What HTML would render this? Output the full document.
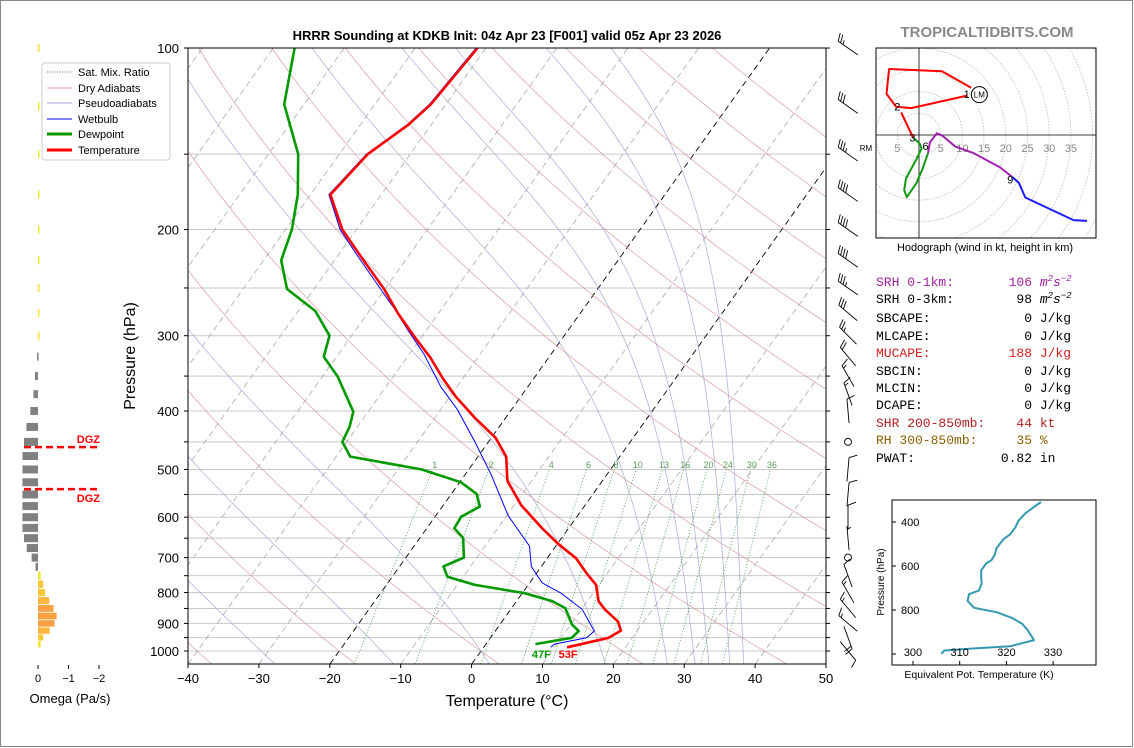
<!DOCTYPE html>
<html><head><meta charset="utf-8"><style>
html,body{margin:0;padding:0;background:#fff;}
svg{display:block;font-family:"Liberation Sans",sans-serif;}
.mono{font-family:"Liberation Mono",monospace;font-size:13px;white-space:pre;}
</style></head><body>
<svg id="chart" width="1134" height="748" viewBox="0 0 1134 748" xmlns="http://www.w3.org/2000/svg">
<rect x="0.5" y="0.5" width="1132" height="746" fill="#fff" stroke="#888"/>
<defs>
<clipPath id="mainClip"><rect x="188" y="48" width="638" height="616"/></clipPath>
<clipPath id="hodoClip"><rect x="876" y="48" width="220" height="190"/></clipPath>
</defs>
<text x="507" y="40" text-anchor="middle" font-size="13" font-weight="bold">HRRR Sounding at KDKB Init: 04z Apr 23 [F001] valid 05z Apr 23 2026</text>
<text x="987" y="37" text-anchor="middle" font-size="15" font-weight="bold" fill="#888">TROPICALTIDBITS.COM</text>
<g id="bg" clip-path="url(#mainClip)"></g>
<g id="prof" clip-path="url(#mainClip)"></g>
<g id="axes"></g>
<g id="barbs"></g>
<g id="omega"></g>
<g id="hodo"></g>
<g id="thetae"></g>
<g>
<rect x="42" y="63" width="128" height="97" rx="3" fill="#fff" stroke="#ccc"/>
<line x1="47" y1="72" x2="72" y2="72" stroke="#3a9a3a" stroke-dasharray="1,1.5"/><text x="78" y="76" font-size="11">Sat. Mix. Ratio</text>
<line x1="47" y1="88" x2="72" y2="88" stroke="#e0a0a0"/><text x="78" y="92" font-size="11">Dry Adiabats</text>
<line x1="47" y1="103" x2="72" y2="103" stroke="#a8a8e0"/><text x="78" y="107" font-size="11">Pseudoadiabats</text>
<line x1="47" y1="119" x2="72" y2="119" stroke="#00f"/><text x="78" y="123" font-size="11">Wetbulb</text>
<line x1="47" y1="134" x2="72" y2="134" stroke="#009900" stroke-width="3"/><text x="78" y="138" font-size="11">Dewpoint</text>
<line x1="47" y1="150" x2="72" y2="150" stroke="#f00" stroke-width="3"/><text x="78" y="154" font-size="11">Temperature</text>
</g>
<g>
<text class="mono" x="876" y="286" fill="#a020a0">SRH 0-1km:       106 <tspan font-style="italic">m<tspan dy="-5" font-size="9">2</tspan><tspan dy="5">s</tspan><tspan dy="-5" font-size="9">−2</tspan></tspan></text>
<text class="mono" x="876" y="303" fill="#000">SRH 0-3km:        98 <tspan font-style="italic">m<tspan dy="-5" font-size="9">2</tspan><tspan dy="5">s</tspan><tspan dy="-5" font-size="9">−2</tspan></tspan></text>
<text class="mono" x="876" y="322">SBCAPE:            0 J/kg</text>
<text class="mono" x="876" y="340">MLCAPE:            0 J/kg</text>
<text class="mono" x="876" y="357" fill="#d02020">MUCAPE:          188 J/kg</text>
<text class="mono" x="876" y="375">SBCIN:             0 J/kg</text>
<text class="mono" x="876" y="392">MLCIN:             0 J/kg</text>
<text class="mono" x="876" y="409">DCAPE:             0 J/kg</text>
<text class="mono" x="876" y="427" fill="#b02020">SHR 200-850mb:    44 kt</text>
<text class="mono" x="876" y="444" fill="#8b6000">RH 300-850mb:     35 %</text>
<text class="mono" x="876" y="462">PWAT:           0.82 in</text>
</g>
</svg>
<script>
// ---------- data ----------
const tempP = [100,124,134,150,175,200,225,251,276,303,326,354,379,410,443,476,522,573,625,665,702,742,777,827,853,894,925,951,986];
const tempT = [-61.2,-62.1,-63.2,-66.0,-67.2,-62.0,-55.9,-50.1,-45.6,-40.7,-36.7,-32.7,-29.1,-24.4,-19.4,-16.0,-13.4,-9.0,-3.8,0.2,4.1,7.0,9.6,11.6,13.3,16.4,17.7,16.7,11.8];
const dewP = [100,124,150,175,200,225,251,273,300,325,351,401,425,450,476,500,525,549,576,599,626,649,700,724,753,777,802,827,849,904,927,951,974];
const dewT = [-87.0,-82.8,-75.8,-71.8,-69.1,-67.5,-63.8,-57.6,-53.1,-51.8,-47.8,-42.1,-41.1,-40.6,-38.0,-26.6,-19.8,-16.4,-14.7,-16.3,-16.1,-13.9,-11.8,-13.8,-12.2,-7.5,0.4,5.1,7.6,10.2,11.8,11.5,7.0];
const wbP = [100,124,134,150,175,200,225,251,271,296,322,365,398,450,510,596,670,724,771,802,853,927,951,974,986];
const wbT = [-61.4,-62.3,-63.4,-66.2,-67.4,-62.3,-56.3,-50.6,-46.6,-42.2,-37.9,-32.2,-27.6,-21.9,-16.3,-9.8,-3.7,-1.4,1.8,5.5,10.1,14.0,13.6,9.7,9.5];
const xTicks = [-40,-30,-20,-10,0,10,20,30,40,50];
const pLabels = [100,200,300,400,500,600,700,800,900,1000];
const pGrid = [100,150,200,250,300,350,400,450,500,550,600,650,700,750,800,850,900,950,1000];
const mixRatios = [1,2,4,6,8,10,13,16,20,24,30,36];
const mixLabels = ['1','2','4','6','8','10','13','16','20','24','30','36'];
const dryThetas = [-40,-20,0,20,40,60,80,100,120,140,160,180,200];
const moistT0 = [-31,-14,0,17,26,30,32,35,37];
// omega
const omegaP = [100,125,150,175,200,225,250,275,300,325,350,375,400,425,450,475,500,525,550,575,600,625,650,675,700,725,750,775,800,825,850,875,900,925,950,975];
const omegaV = [-0.05,-0.05,-0.05,-0.05,-0.05,-0.05,-0.05,-0.05,-0.03,0.03,0.1,0.15,0.25,0.38,0.46,0.51,0.51,0.51,0.51,0.51,0.51,0.51,0.46,0.37,0.21,0.08,-0.09,-0.17,-0.23,-0.37,-0.51,-0.61,-0.54,-0.38,-0.17,-0.09];
const omegaTicks = [0,-1,-2];
const dgzP = [459,539];
// hodograph (kt)
const hodoRedU = [12.0,5.3,-6.9,-7.5,-5.3,-1.8,11.2];
const hodoRedV = [10.9,14.7,15.2,9.5,6.5,6.2,9.1];
const hodoRed2U = [-4.1,-1.4];
const hodoRed2V = [5.2,-0.5];
const hodoGreenU = [-1.4,0.2,0.6,-0.6,-3.0,-3.4,-2.8,-0.6,0.9,2.1];
const hodoGreenV = [-0.5,-2.1,-3.1,-5.6,-10.0,-12.7,-14.3,-11.1,-7.6,-4.1];
const hodoPurpleU = [2.1,2.5,4.1,5.3,8.4,12.4,18.6,21.4];
const hodoPurpleV = [-4.1,-1.7,0.4,-0.1,-2.7,-4.1,-7.4,-9.6];
const hodoBlueU = [21.4,23.0,24.5,35.6,38.7];
const hodoBlueV = [-9.6,-11.0,-14.4,-19.6,-19.8];
const hodoRings = [5,10,15,20,25,30,35,40,45];
const hodoLabelsNames = ['1','2','3','6','9'];
const hodoLabelsU = [11.0,-5.0,-1.5,1.5,21.0];
const hodoLabelsV = [9.5,6.6,-0.6,-2.5,-10.2];
const lmUV = [13.9,9.3];
// theta-e
const thetaP = [309,332,360,394,425,456,480,518,549,573,588,619,650,681,712,728,759,790,810,836,863,890,937,965,976,984,999];
const thetaV = [327.4,325.9,324.1,322.6,321.9,320.8,319.3,317.9,317.5,316.8,315.7,314.6,314.6,314.7,314.1,312.0,311.7,313.1,317.9,321.2,323.4,324.5,325.9,320.8,312.0,306.7,306.1];
const thetaXTicks = [300,310,320,330];
const thetaYTicks = [400,600,800,1000];
// winds
const windP = [100,125,150,175,200,225,250,275,300,325,350,375,400,450,500,550,600,650,700,750,800,850,900,950,1000];
const windSpd = [25,30,35,40,40,40,35,30,25,20,15,15,10,0,10,10,10,5,0,10,15,15,15,20,10];
const windDir = [305,305,305,305,305,305,305,310,315,320,330,340,355,0,5,5,0,355,0,340,330,320,310,160,140];

// ---------- helpers ----------
const NS='http://www.w3.org/2000/svg';
function mk(tag, parent, attrs){const e=document.createElementNS(NS,tag);for(const k in attrs)e.setAttribute(k,attrs[k]);parent.appendChild(e);return e;}
function yP(p){return 48+603*Math.log10(p/100);}
function xT(T,p){return 188+(T+40)*7.089+0.714*(664-yP(p));}
function pts(ps,ts){return ps.map((p,i)=>xT(ts[i],p).toFixed(1)+','+yP(p).toFixed(1)).join(' ');}
const bg=document.getElementById('bg'), prof=document.getElementById('prof'), ax=document.getElementById('axes');

pGrid.forEach(p=>{const l=mk('line',bg,{x1:188,x2:826,y1:yP(p),y2:yP(p),stroke:'#c8c8c8','stroke-width':1});

});
for(let T=-150;T<=50;T+=10){const black=(T===-20||T===0);
const l=mk('line',bg,{x1:xT(T,1050),y1:664,x2:xT(T,100),y2:48,stroke:black?'#000':'#aaa','stroke-dasharray':'6,4','stroke-width':black?0.9:0.8});

}
dryThetas.forEach(th=>{const K=th+273.15;let s=[];for(let p=1050;p>=100;p-=10){s.push(xT(K*Math.pow(p/1000,0.2857)-273.15,p).toFixed(1)+','+yP(p).toFixed(1));}
const l=mk('polyline',bg,{points:s.join(' '),fill:'none',stroke:'#d08888','stroke-width':0.7,opacity:0.8});

});
function rs(T,p){const Tc=T-273.15;const es=6.112*Math.exp(17.67*Tc/(Tc+243.5));return 0.622*es/(p-es);}
function dTdp(T,p){const r=rs(T,p);return (287*T+2.5e6*r)/(p*(1004+2.5e6*2.5e6*r*0.622/(287*T*T)));}
moistT0.forEach(t0=>{let T=t0+273.15;let up=[];for(let p=1000;p>=100;p-=2){up.push([p,T]);T-=dTdp(T,p)*2;}
T=t0+273.15;let dn=[];for(let p=1000;p<=1050;p+=2){dn.unshift([p,T]);T+=dTdp(T,p)*2;}
const all=dn.concat(up);const l=mk('polyline',bg,{points:all.map(a=>xT(a[1]-273.15,a[0]).toFixed(1)+','+yP(a[0]).toFixed(1)).join(' '),fill:'none',stroke:'#9a9ad8','stroke-width':0.7,opacity:0.85});

});
function tdFromW(w,p){const e=w*p/(622+w);const a=Math.log(e/6.112);return 243.5*a/(17.67-a);}
mixRatios.forEach((w,i)=>{const l=mk('line',bg,{x1:xT(tdFromW(w,1050),1050),y1:664,x2:xT(tdFromW(w,500),500),y2:yP(500),stroke:'#3a9a3a','stroke-width':0.8,'stroke-dasharray':'1,2'});


const t=mk('text',bg,{x:xT(tdFromW(w,490),490),y:yP(490)+4,'font-size':9,fill:'#5a9a5a','text-anchor':'middle'});t.textContent=mixLabels[i];

});

let e;
e=mk('polyline',prof,{points:pts(wbP,wbT),fill:'none',stroke:'#0000ff','stroke-width':1});


e=mk('polyline',prof,{points:pts(dewP,dewT),fill:'none',stroke:'#009900','stroke-width':2.6,'stroke-linejoin':'round'});


e=mk('polyline',prof,{points:pts(tempP,tempT),fill:'none',stroke:'#ff0000','stroke-width':2.6,'stroke-linejoin':'round'});


e=mk('text',prof,{x:xT(dewT[dewT.length-1],dewP[dewP.length-1])+6,y:658,'font-size':11,'font-weight':'bold',fill:'#009900','text-anchor':'middle'});e.textContent='47F';


e=mk('text',prof,{x:xT(tempT[tempT.length-1],tempP[tempP.length-1])+1,y:658,'font-size':11,'font-weight':'bold',fill:'#ff0000','text-anchor':'middle'});e.textContent='53F';



mk('rect',ax,{x:188,y:48,width:638,height:616,fill:'none',stroke:'#000','stroke-width':1});
xTicks.forEach(T=>{const x=188+(T+40)*7.089;mk('line',ax,{x1:x,x2:x,y1:664,y2:668,stroke:'#000'});
const t=mk('text',ax,{x:x,y:683,'font-size':13,'text-anchor':'middle'});t.textContent=(T<0?'−':'')+Math.abs(T);

});
pGrid.forEach(p=>{mk('line',ax,{x1:184,x2:188,y1:yP(p),y2:yP(p),stroke:'#000'});mk('line',ax,{x1:826,x2:830,y1:yP(p),y2:yP(p),stroke:'#000'});});
pLabels.forEach(p=>{const t=mk('text',ax,{x:179,y:yP(p)+5,'font-size':13,'text-anchor':'end'});t.textContent=p;

});
e=mk('text',ax,{x:507,y:706,'font-size':16,'text-anchor':'middle'});e.textContent='Temperature (°C)';


e=mk('text',ax,{x:0,y:0,'font-size':16,'text-anchor':'middle',transform:'translate(135,356) rotate(-90)'});e.textContent='Pressure (hPa)';



// wind barbs (pivot middle)
const bg2=document.getElementById('barbs');
windP.forEach((p,i)=>{const sx=848,sy=yP(p);const s=windSpd[i];
if(s<2.5){const c=mk('circle',bg2,{cx:sx,cy:sy,r:3.5,fill:'none',stroke:'#000','stroke-width':0.9});

return;}
const d=windDir[i]*Math.PI/180;const ux=Math.sin(d),uy=-Math.cos(d);const L=24;
const bx0=sx-ux*L/2,by0=sy-uy*L/2;const ex=sx+ux*L/2,ey=sy+uy*L/2;
const g=mk('g',bg2,{});


mk('line',g,{x1:bx0,y1:by0,x2:ex,y2:ey,stroke:'#000','stroke-width':0.9});
let n10=Math.floor(s/10),n5=(s%10)>=5?1:0;const px=-uy,py=ux;let pos=0;
for(let k=0;k<n10;k++){const bx=ex-ux*pos,by=ey-uy*pos;mk('line',g,{x1:bx,y1:by,x2:bx+px*8+ux*3,y2:by+py*8+uy*3,stroke:'#000','stroke-width':0.9});pos+=3;}
if(n5){if(pos===0)pos=3;const bx=ex-ux*pos,by=ey-uy*pos;mk('line',g,{x1:bx,y1:by,x2:bx+px*4+ux*1.5,y2:by+py*4+uy*1.5,stroke:'#000','stroke-width':0.9});}
});

// omega panel
const om=document.getElementById('omega');const ox0=38,osc=30.5;
omegaP.forEach((p,i)=>{const v=omegaV[i];const y=yP(p);const nxt=i<omegaP.length-1?yP(omegaP[i+1]):yP(1000);const h=Math.min(8,Math.max(5,(nxt-y)*0.9));
const w=Math.abs(v)*osc;let col;if(v>0)col='#808080';else{const a=Math.abs(v);col=a<0.15?'#f2e838':(a<0.3?'#fcc83a':(a<0.45?'#fbb43c':'#f9a040'));}
const r=mk('rect',om,{x:v>0?ox0-w:ox0,y:y-h/2,width:Math.max(w,1.5),height:h,fill:col});

});
dgzP.forEach((p,i)=>{const y=yP(p);const l=mk('line',om,{x1:24,x2:98,y1:y,y2:y,stroke:'#f00','stroke-width':2.5,'stroke-dasharray':'7,4'});


const t=mk('text',om,{x:100,y:i===0?y-4:y+13,'font-size':11,'font-weight':'bold',fill:'#f00','text-anchor':'end'});t.textContent='DGZ';

});
omegaTicks.forEach(v=>{const x=ox0-v*osc;mk('line',om,{x1:x,x2:x,y1:665,y2:669,stroke:'#000'});const t=mk('text',om,{x:x,y:682,'font-size':11,'text-anchor':'middle'});t.textContent=v===0?'0':'−'+Math.abs(v);

});
e=mk('text',om,{x:70,y:703,'font-size':13,'text-anchor':'middle'});e.textContent='Omega (Pa/s)';



// hodograph
const hd=document.getElementById('hodo');const hx0=919,hy0=135,hk=4.34;
const hc=mk('g',hd,{'clip-path':'url(#hodoClip)'});
hodoRings.forEach(r=>{const c=mk('circle',hc,{cx:hx0,cy:hy0,r:r*hk,fill:'none',stroke:'#bbb','stroke-width':0.8,'stroke-dasharray':'1.5,1.5'});

});
mk('line',hc,{x1:876,x2:1096,y1:hy0,y2:hy0,stroke:'#000','stroke-width':0.8});
mk('line',hc,{x1:hx0,x2:hx0,y1:48,y2:238,stroke:'#000','stroke-width':0.8});
[-5,5,10,15,20,25,30,35].forEach(r=>{const t=mk('text',hc,{x:hx0+r*hk,y:152,'font-size':11,fill:'#888','text-anchor':'middle'});t.textContent=Math.abs(r);

});
function hpts(u,v){return u.map((a,i)=>(hx0+a*hk).toFixed(1)+','+(hy0-v[i]*hk).toFixed(1)).join(' ');}
[[hodoRedU,hodoRedV,'#f00','hodograph-0-3km'],[hodoRed2U,hodoRed2V,'#f00','hodograph-2-3km'],[hodoGreenU,hodoGreenV,'#119911','hodograph-3-6km'],[hodoPurpleU,hodoPurpleV,'#a020b0','hodograph-6-9km'],[hodoBlueU,hodoBlueV,'#1a1aff','hodograph-9-12km']].forEach(s=>{
const l=mk('polyline',hc,{points:hpts(s[0],s[1]),fill:'none',stroke:s[2],'stroke-width':2,'stroke-linejoin':'round'});

});
hodoLabelsNames.forEach((n,i)=>{const t=mk('text',hc,{x:hx0+hodoLabelsU[i]*hk,y:hy0-hodoLabelsV[i]*hk+4,'font-size':11,'text-anchor':'middle'});t.textContent=n;

});
e=mk('circle',hc,{cx:hx0+lmUV[0]*hk,cy:hy0-lmUV[1]*hk,r:8,fill:'none',stroke:'#000','stroke-width':1});


e=mk('text',hc,{x:hx0+lmUV[0]*hk,y:hy0-lmUV[1]*hk+3,'font-size':8,'text-anchor':'middle'});e.textContent='LM';


mk('rect',hd,{x:876,y:48,width:220,height:190,fill:'none',stroke:'#000','stroke-width':1});
e=mk('text',hd,{x:866,y:151,'font-size':8,'text-anchor':'middle'});e.textContent='RM';


e=mk('text',hd,{x:985,y:251,'font-size':11,'text-anchor':'middle'});e.textContent='Hodograph (wind in kt, height in km)';



// theta-e
const te=document.getElementById('thetae');
function tx(t){return 913+(t-300)*4.67;} function ty(p){return 522+(p-400)*0.22;}
e=mk('polyline',te,{points:thetaV.map((t,i)=>tx(t).toFixed(1)+','+ty(thetaP[i]).toFixed(1)).join(' '),fill:'none',stroke:'#3399b0','stroke-width':2,'stroke-linejoin':'round'});


mk('rect',te,{x:892,y:500,width:204,height:165,fill:'none',stroke:'#000','stroke-width':1});
thetaXTicks.forEach(t=>{mk('line',te,{x1:tx(t),x2:tx(t),y1:665,y2:661,stroke:'#000'});const l=mk('text',te,{x:tx(t),y:656,'font-size':11,'text-anchor':'middle'});l.textContent=t;

});
thetaYTicks.forEach(p=>{mk('line',te,{x1:892,x2:896,y1:ty(p),y2:ty(p),stroke:'#000'});if(p<1000){const l=mk('text',te,{x:901,y:ty(p)+4,'font-size':11});l.textContent=p;

}});
e=mk('text',te,{x:0,y:0,'font-size':10,'text-anchor':'middle',transform:'translate(884,582) rotate(-90)'});e.textContent='Pressure (hPa)';


e=mk('text',te,{x:979,y:678,'font-size':10.5,'text-anchor':'middle'});e.textContent='Equivalent Pot. Temperature (K)';


</script>
</body></html>
